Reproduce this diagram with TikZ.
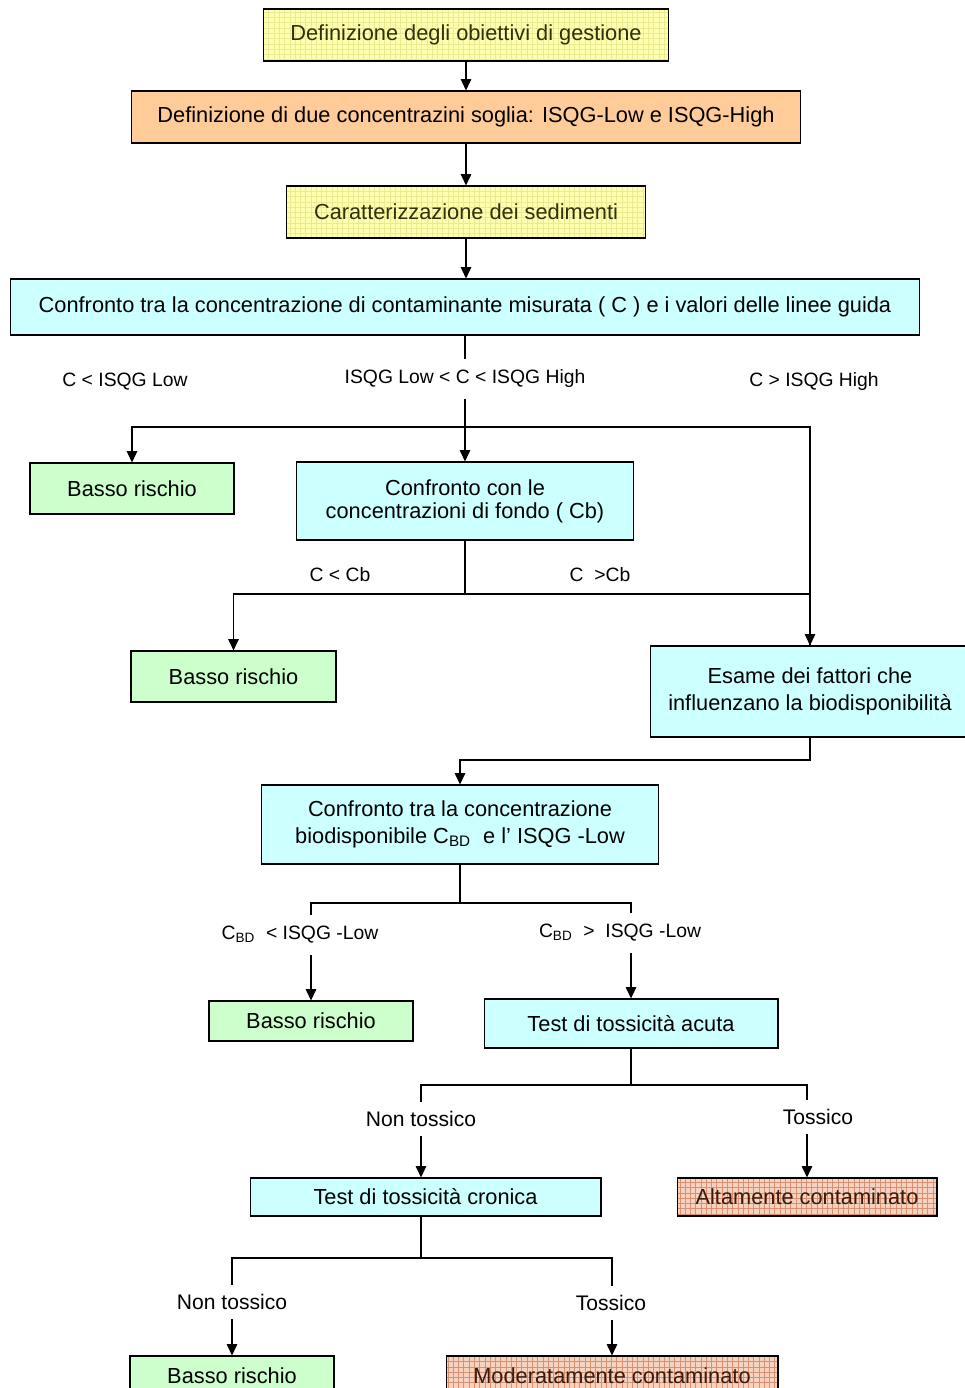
\documentclass[tikz,border=0pt]{standalone}
\usepackage{fontspec}
\setmainfont{Liberation Sans}
\usepackage{tikz}
\usetikzlibrary{arrows.meta,patterns}
\definecolor{yellowfill}{HTML}{FFFFB0}
\definecolor{yellowgrid}{HTML}{EAEA90}
\definecolor{yellowtext}{HTML}{30300A}
\definecolor{orangefill}{HTML}{FFCC99}
\definecolor{cyanfill}{HTML}{CCFFFF}
\definecolor{greenfill}{HTML}{CCFFCC}
\definecolor{brownfill}{HTML}{F6D2C0}
\definecolor{browngrid}{HTML}{D89070}
\definecolor{browntext}{HTML}{3A1A0C}
\tikzset{
  box/.style={draw=black, line width=0.6pt, align=center, inner sep=0pt,
    font=\fontsize{12.4}{15.5}\selectfont},
  gridbox/.style={box, draw=none, postaction={pattern=grid, pattern color=#1},
    postaction={draw=black, line width=0.6pt}},
  yellowbox/.style={gridbox=yellowgrid, fill=yellowfill, text=yellowtext},
  orangebox/.style={box, fill=orangefill},
  cyanbox/.style={box, fill=cyanfill},
  greenbox/.style={box, fill=greenfill},
  brownbox/.style={gridbox=browngrid, fill=brownfill, text=browntext},
  lab/.style={inner sep=0pt, minimum height=0.8cm, font=\fontsize{11}{13}\selectfont},
  labl/.style={lab, minimum height=0.68cm, font=\fontsize{12}{14}\selectfont},
  link/.style={line width=0.7pt},
  arr/.style={link, -{Triangle[length=6.5pt,width=6pt]}}
}

\begin{document}
\begin{tikzpicture}[x=0.02cm, y=-0.02cm]
  \useasboundingbox (0,0) rectangle (964,1388);

  % main chain
  \node[yellowbox, minimum width=8.1cm, minimum height=1.04cm] (obj) at (466,35)
    {Definizione degli obiettivi di gestione};
  \node[orangebox, minimum width=13.4cm, minimum height=1.04cm] (soglie) at (466,117)
    {Definizione di due concentrazini soglia: ISQG-Low e ISQG-High};
  \node[yellowbox, minimum width=7.18cm, minimum height=1.04cm] (caratt) at (466,212)
    {Caratterizzazione dei sedimenti};
  \node[cyanbox, minimum width=18.18cm, minimum height=1.12cm] (confr) at (465,307)
    {Confronto tra la concentrazione di contaminante misurata ( C ) e i valori delle linee guida};

  \draw[arr] (obj.south) -- (soglie.north);
  \draw[arr] (soglie.south) -- (caratt.north);
  \draw[arr] (caratt.south) -- (caratt.south |- confr.north);

  % first split
  \node[lab] (lLow) at (125,382) {C < ISQG Low};
  \node[lab] (lMid) at (465,379) {ISQG Low < C < ISQG High};
  \node[lab] (lHigh) at (814,382) {C > ISQG High};

  \node[greenbox, minimum width=4.08cm, minimum height=1.02cm] (basso1) at (132,488.5)
    {Basso rischio};
  \node[cyanbox, minimum width=6.74cm, minimum height=1.56cm,
    font=\fontsize{12.4}{13}\selectfont] (fondo) at (465,501)
    {Confronto con le\\ concentrazioni di fondo ( Cb)};
  \node[cyanbox, minimum width=6.4cm, minimum height=1.82cm] (esame) at (810,691.5)
    {Esame dei fattori che\\ influenzano la biodisponibilità};

  \coordinate (j1) at (465,427);
  \draw[link] (confr.south) -- (lMid.north);
  \draw[link] (lMid.south) -- (j1);
  \draw[arr] (j1) -| (basso1.north);
  \draw[arr] (j1) -- (fondo.north);
  \draw[arr] (j1) -| (esame.north);

  % background values
  \node[lab] (lCb1) at (340,575) {C < Cb};
  \node[lab] (lCb2) at (600,575) {C\ \ >Cb};
  \node[greenbox, minimum width=4.1cm, minimum height=1.02cm] (basso2) at (233.5,676.5)
    {Basso rischio};

  \coordinate (j2) at (465,594);
  \draw[link] (fondo.south) -- (j2);
  \draw[arr] (j2) -| (basso2.north);
  \draw[link] (j2) -| (esame.north);

  % bioavailable fraction
  \node[cyanbox, minimum width=7.94cm, minimum height=1.58cm] (biod) at (460,824.5)
    {Confronto tra la concentrazione\\ biodisponibile C\textsubscript{BD}\ \ e l’ ISQG -Low};
  \coordinate (j3) at (810,760);
  \draw[arr] (esame.south) -- (j3) -| (biod.north);

  \node[lab] (lBD1) at (300,935) {C\textsubscript{BD}\ \ < ISQG -Low};
  \node[lab] (lBD2) at (620,933) {C\textsubscript{BD}\ \ >\ \ ISQG -Low};
  \node[greenbox, minimum width=4.08cm, minimum height=0.8cm] (basso3) at (311,1021)
    {Basso rischio};
  \node[cyanbox, minimum width=5.88cm, minimum height=0.98cm] (acuta) at (631,1023.5)
    {Test di tossicità acuta};

  \coordinate (j4) at (460,903);
  \draw[link] (biod.south) -- (j4);
  \draw[link] (j4) -| (basso3.north |- lBD1.north);
  \draw[arr] (basso3.north |- lBD1.south) -- (basso3.north);
  \draw[link] (j4) -| (acuta.north |- lBD2.north);
  \draw[arr] (acuta.north |- lBD2.south) -- (acuta.north);

  % acute test
  \node[labl] (lNT1) at (421,1119) {Non tossico};
  \node[labl] (lT1) at (818,1117) {Tossico};
  \node[cyanbox, minimum width=7.02cm, minimum height=0.76cm] (cronica) at (425.5,1197)
    {Test di tossicità cronica};
  \node[brownbox, minimum width=5.2cm, minimum height=0.76cm] (alto) at (807,1197)
    {Altamente contaminato};

  \coordinate (j5) at (631,1085);
  \draw[link] (acuta.south) -- (j5);
  \draw[link] (j5) -| (lNT1.north);
  \draw[arr] (lNT1.south) -- (lNT1.south |- cronica.north);
  \draw[link] (j5) -| (alto.north |- lT1.north);
  \draw[arr] (alto.north |- lT1.south) -- (alto.north);

  % chronic test
  \node[labl] (lNT2) at (232,1302) {Non tossico};
  \node[labl] (lT2) at (611,1303) {Tossico};
  \node[greenbox, minimum width=4.08cm, minimum height=0.8cm] (basso4) at (232,1376)
    {Basso rischio};
  \node[brownbox, minimum width=6.64cm, minimum height=0.8cm] (moder) at (612,1376)
    {Moderatamente contaminato};

  \coordinate (j6) at (421,1258);
  \draw[link] (lNT1.south |- cronica.south) -- (j6);
  \draw[link] (j6) -| (lNT2.north);
  \draw[arr] (lNT2.south) -- (basso4.north);
  \draw[link] (j6) -| (moder.north |- lT2.north);
  \draw[arr] (moder.north |- lT2.south) -- (moder.north);
\end{tikzpicture}
\end{document}
